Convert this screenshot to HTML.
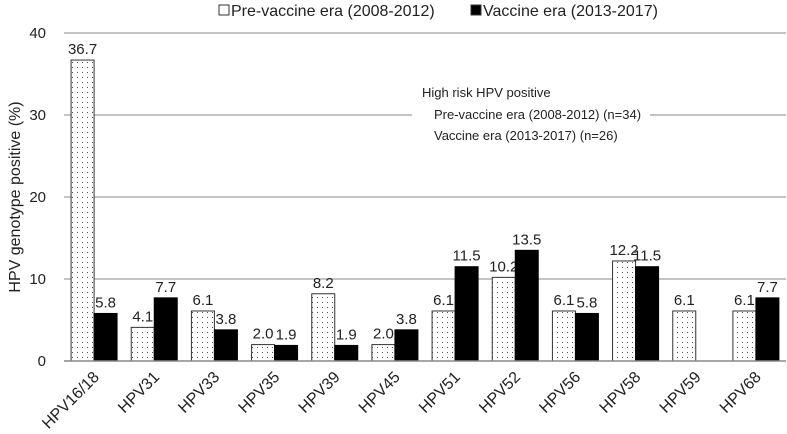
<!DOCTYPE html>
<html><head><meta charset="utf-8"><style>
body{margin:0;background:#fff}
svg{font-family:"Liberation Sans",Arial,sans-serif}
</style></head><body>
<svg id="c" width="787" height="429" xmlns="http://www.w3.org/2000/svg">
<defs>
<pattern id="dots" width="5" height="5" patternUnits="userSpaceOnUse"><rect width="5" height="5" fill="#fff"/><rect x="2" y="2" width="1" height="1" fill="#555"/></pattern>
</defs>
</svg>
<script>
const categories=["HPV16/18","HPV31","HPV33","HPV35","HPV39","HPV45","HPV51","HPV52","HPV56","HPV58","HPV59","HPV68"];
const preVaccine=[36.7,4.1,6.1,2.0,8.2,2.0,6.1,10.2,6.1,12.2,6.1,6.1];
const vaccine=[5.8,7.7,3.8,1.9,1.9,3.8,11.5,13.5,5.8,11.5,null,7.7];
const yTicks=[0,10,20,30,40];
const svg=document.getElementById('c');
const NS='http://www.w3.org/2000/svg';
const x0=64,x1=786,yb=361,yt=33,ymax=40;
const bw=(x1-x0)/categories.length;
const Y=v=>yb-(v/ymax)*(yb-yt);
const X=i=>x0+i*bw;
function mk(t,a,txt){const e=document.createElementNS(NS,t);for(const k in a)e.setAttribute(k,a[k]);if(txt!=null)e.textContent=txt;svg.appendChild(e);return e;}
yTicks.forEach(t=>{
 if(t>0){const g=mk('line',{x1:x0,x2:x1,y1:Y(t),y2:Y(t),stroke:'#888','stroke-width':1});
 
 }
 const l=mk('text',{x:46,y:Y(t)+5,'text-anchor':'end','font-size':15,fill:'#222'},t);
 
 
});
const ab=mk('rect',{x:412,y:80,width:238,height:64,fill:'#fff'});


[["High risk HPV positive",422,97],["Pre-vaccine era (2008-2012) (n=34)",434,119],["Vaccine era (2013-2017) (n=26)",434,140]].forEach((a,i)=>{
 const t=mk('text',{x:a[1],y:a[2],'font-size':13,fill:'#222'},a[0]);
 
 
});
categories.forEach((c,i)=>{
 const cx=X(i)+bw/2;
 [[preVaccine[i],cx-23,'url(#dots)','pre'],[vaccine[i],cx,'#000','vac']].forEach(s=>{
  if(s[0]==null)return;
  const r=mk('rect',{x:s[1],y:Y(s[0]),width:23,height:yb-Y(s[0]),fill:s[2],stroke:s[3]=='pre'?'#333':'#000','stroke-width':1});
  
  
  const v=mk('text',{x:s[1]+11.5,y:Y(s[0])-6,'text-anchor':'middle','font-size':15,fill:'#222'},s[0].toFixed(1));
  
  
 });
 const l=mk('text',{x:cx+6,y:378,'text-anchor':'end','font-size':16,fill:'#222',transform:`rotate(-45 ${cx+6} 378)`},c);
 
 
});
const ax=mk('line',{x1:x0,x2:x1,y1:yb,y2:yb,stroke:'#888','stroke-width':1.5});


const yt2=mk('text',{x:20,y:197,'text-anchor':'middle','font-size':16,fill:'#222',transform:'rotate(-90 20 197)'},'HPV genotype positive (%)');


const lg=[["Pre-vaccine era (2008-2012)",219,'#fff'],["Vaccine era (2013-2017)",471,'#000']];
lg.forEach((a,i)=>{
 const b=mk('rect',{x:a[1],y:5,width:10,height:10,fill:a[2],stroke:'#333'});
 
 
 const t=mk('text',{x:a[1]+12,y:16,'font-size':16,fill:'#222'},a[0]);
 
 
});
</script>
</body></html>
